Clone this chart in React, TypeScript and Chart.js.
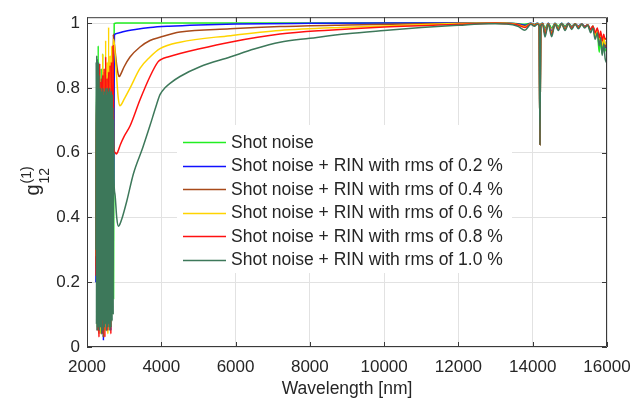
import { useEffect, useRef } from "react";
import { Chart, registerables } from "chart.js";
Chart.register(...registerables);

const xTicks = [2000, 4000, 6000, 8000, 10000, 12000, 14000, 16000];
const yTicks = [0, 0.2, 0.4, 0.6, 0.8, 1];

const seriesLabels = [
  "Shot noise",
  "Shot noise + RIN with rms of 0.2 %",
  "Shot noise + RIN with rms of 0.4 %",
  "Shot noise + RIN with rms of 0.6 %",
  "Shot noise + RIN with rms of 0.8 %",
  "Shot noise + RIN with rms of 1.0 %",
];
const seriesColors = ["#22ee22", "#1010ff", "#a84a1a", "#ffd400", "#ff1010", "#3d785a"];

// noisy start region (shared wavelengths for first five series)
const noiseX = [2240, 2262, 2282, 2302, 2322, 2342, 2362, 2382, 2402, 2422, 2442, 2462, 2482, 2502, 2522, 2542, 2562, 2582, 2602, 2622, 2642, 2662, 2682, 2702];
const greenNoise = [0.30, 0.88, 0.06, 0.93, 0.10, 0.80, 0.05, 0.86, 0.12, 0.905, 0.03, 0.84, 0.08, 0.78, 0.05, 0.82, 0.10, 0.86, 0.06, 0.80, 0.09, 0.84, 0.12, 0.90];
const blueNoise = [0.20, 0.84, 0.08, 0.86, 0.05, 0.82, 0.10, 0.80, 0.04, 0.85, 0.02, 0.83, 0.07, 0.81, 0.10, 0.84, 0.06, 0.82, 0.09, 0.85, 0.05, 0.87, 0.15, 0.93];
const brownNoise = [0.25, 0.82, 0.07, 0.85, 0.04, 0.80, 0.09, 0.83, 0.06, 0.81, 0.03, 0.84, 0.08, 0.86, 0.05, 0.82, 0.11, 0.85, 0.07, 0.88, 0.10, 0.90, 0.20, 0.965];
const yellowNoise = [0.28, 0.84, 0.06, 0.82, 0.09, 0.86, 0.04, 0.80, 0.07, 0.905, 0.10, 0.85, 0.05, 0.946, 0.08, 0.88, 0.04, 0.987, 0.12, 0.90, 0.06, 0.93, 0.10, 0.95];
const redNoise = [0.22, 0.80, 0.05, 0.85, 0.03, 0.875, 0.08, 0.82, 0.04, 0.84, 0.07, 0.86, 0.03, 0.896, 0.09, 0.83, 0.05, 0.85, 0.10, 0.87, 0.04, 0.88, 0.12, 0.93];

const dgNoiseX = [2240, 2248, 2255, 2263, 2270, 2278, 2285, 2293, 2300, 2308, 2315, 2323, 2330, 2338, 2345, 2353, 2360, 2368, 2375, 2383, 2390, 2398, 2405, 2413, 2420, 2428, 2435, 2443, 2450, 2458, 2465, 2473, 2480, 2488, 2495, 2503, 2510, 2518, 2525, 2533, 2540, 2548, 2555, 2563, 2570, 2578, 2585, 2593, 2600, 2608, 2615, 2623, 2630, 2638, 2645, 2653, 2660, 2668, 2675, 2683, 2690, 2698, 2705, 2713];
const dgNoise = [0.30, 0.88, 0.07, 0.90, 0.05, 0.89, 0.08, 0.86, 0.06, 0.88, 0.10, 0.84, 0.05, 0.80, 0.09, 0.78, 0.06, 0.80, 0.11, 0.76, 0.04, 0.79, 0.08, 0.77, 0.10, 0.80, 0.05, 0.78, 0.09, 0.75, 0.06, 0.79, 0.10, 0.77, 0.07, 0.80, 0.11, 0.76, 0.05, 0.78, 0.09, 0.80, 0.06, 0.77, 0.10, 0.79, 0.07, 0.76, 0.11, 0.80, 0.05, 0.78, 0.09, 0.77, 0.06, 0.79, 0.10, 0.76, 0.08, 0.78, 0.12, 0.74, 0.10, 0.70];

// smooth middle region
const greenMidX = [2716, 2732, 2800, 4000, 8000, 12000];
const greenMid = [0.15, 0.998, 1.0, 1.0, 1.0, 1.0];
const blueMidX = [2718, 2738, 2800, 3000, 3300, 3700, 4200, 5000, 6000, 8000, 10000, 12000];
const blueMid = [0.5, 0.962, 0.968, 0.974, 0.98, 0.986, 0.99, 0.994, 0.997, 0.999, 1.0, 1.0];
const brownMidX = [2720, 2760, 2800, 2840, 2870, 2900, 3000, 3158, 3427, 3696, 3965, 4504, 5850, 7196, 9000, 11000, 12500];
const brownMid = [0.95, 0.91, 0.87, 0.842, 0.835, 0.84, 0.865, 0.895, 0.926, 0.946, 0.956, 0.972, 0.982, 0.989, 0.994, 0.998, 0.999];
const yellowMidX = [2730, 2760, 2800, 2840, 2880, 2920, 3000, 3158, 3427, 3696, 3965, 4504, 5850, 7196, 9000, 11000, 12500];
const yellowMid = [0.94, 0.90, 0.83, 0.77, 0.745, 0.748, 0.765, 0.799, 0.86, 0.895, 0.921, 0.941, 0.961, 0.977, 0.987, 0.995, 0.999];
const redMidX = [2718, 2760, 2790, 2820, 2900, 3000, 3158, 3427, 3696, 3911, 4000, 4200, 4504, 5000, 5850, 7196, 8500, 10000, 12000];
const redMid = [0.62, 0.60, 0.596, 0.60, 0.625, 0.65, 0.682, 0.763, 0.835, 0.88, 0.888, 0.896, 0.906, 0.92, 0.941, 0.966, 0.978, 0.988, 0.996];
const dgMidX = [2725, 2755, 2800, 2845, 2880, 2950, 3070, 3250, 3500, 3700, 3850, 3965, 4100, 4235, 4504, 5042, 5850, 6500, 7196, 8000, 9000, 10000, 11000, 12000, 12800];
const dgMid = [0.52, 0.47, 0.40, 0.373, 0.378, 0.40, 0.45, 0.535, 0.615, 0.685, 0.74, 0.779, 0.80, 0.814, 0.835, 0.865, 0.895, 0.92, 0.941, 0.953, 0.967, 0.977, 0.986, 0.993, 0.998];

// long-wavelength tail (shared wavelengths)
const tailX = [13000, 13300, 13600, 13790, 13950, 14050, 14120, 14175, 14195, 14215, 14270, 14330, 14420, 14510, 14600, 14690, 14780, 14870, 14960, 15050, 15140, 15230, 15320, 15400, 15480, 15560, 15620, 15680, 15740, 15790, 15830, 15870, 15910, 15950, 16000];
const greenTail = [1.0, 1.0, 0.998, 0.996, 0.999, 0.996, 0.999, 0.996, 0.625, 0.996, 0.999, 0.985, 0.999, 0.985, 0.999, 0.99, 0.999, 0.99, 0.999, 0.99, 0.998, 0.99, 0.997, 0.99, 0.995, 0.975, 0.99, 0.96, 0.975, 0.91, 0.95, 0.905, 0.94, 0.92, 0.91];
const blueTail = [1.0, 1.0, 0.997, 0.993, 0.999, 0.995, 0.999, 0.995, 0.625, 0.995, 0.999, 0.975, 0.999, 0.975, 0.999, 0.985, 0.999, 0.987, 0.999, 0.988, 0.998, 0.99, 0.997, 0.99, 0.995, 0.98, 0.99, 0.965, 0.98, 0.95, 0.965, 0.935, 0.955, 0.93, 0.92];
const brownTail = [1.0, 0.999, 0.996, 0.99, 0.998, 0.994, 0.998, 0.994, 0.625, 0.994, 0.998, 0.97, 0.998, 0.97, 0.998, 0.983, 0.998, 0.984, 0.998, 0.986, 0.997, 0.988, 0.996, 0.988, 0.994, 0.978, 0.99, 0.965, 0.98, 0.95, 0.965, 0.935, 0.955, 0.93, 0.925];
const yellowTail = [0.999, 0.999, 0.995, 0.988, 0.998, 0.993, 0.998, 0.993, 0.625, 0.993, 0.998, 0.968, 0.998, 0.968, 0.998, 0.982, 0.998, 0.982, 0.997, 0.985, 0.997, 0.987, 0.996, 0.988, 0.994, 0.978, 0.99, 0.96, 0.978, 0.945, 0.965, 0.93, 0.955, 0.935, 0.94];
const redTail = [0.999, 0.998, 0.994, 0.986, 0.997, 0.992, 0.997, 0.992, 0.625, 0.992, 0.997, 0.965, 0.997, 0.965, 0.997, 0.98, 0.997, 0.98, 0.997, 0.984, 0.997, 0.986, 0.996, 0.988, 0.994, 0.98, 0.99, 0.97, 0.985, 0.955, 0.975, 0.945, 0.965, 0.95, 0.955];
const dgTail = [0.998, 0.997, 0.99, 0.978, 0.996, 0.99, 0.996, 0.99, 0.625, 0.99, 0.996, 0.957, 0.997, 0.958, 0.997, 0.977, 0.998, 0.977, 0.997, 0.98, 0.997, 0.982, 0.996, 0.985, 0.993, 0.97, 0.985, 0.95, 0.97, 0.93, 0.955, 0.90, 0.935, 0.89, 0.875];

const zip = (xs: number[], ys: number[]) => xs.map((x, i) => ({ x, y: ys[i] }));

const seriesPoints = [
  [...zip(noiseX, greenNoise), ...zip(greenMidX, greenMid), ...zip(tailX, greenTail)],
  [...zip(noiseX, blueNoise), ...zip(blueMidX, blueMid), ...zip(tailX, blueTail)],
  [...zip(noiseX, brownNoise), ...zip(brownMidX, brownMid), ...zip(tailX, brownTail)],
  [...zip(noiseX, yellowNoise), ...zip(yellowMidX, yellowMid), ...zip(tailX, yellowTail)],
  [...zip(noiseX, redNoise), ...zip(redMidX, redMid), ...zip(tailX, redTail)],
  [...zip(dgNoiseX, dgNoise), ...zip(dgMidX, dgMid), ...zip(tailX, dgTail)],
];

const FONT = "'Liberation Sans', Arial, Helvetica, sans-serif";
const TEXT = "#262626";

const decorPlugin = {
  id: "decor",
  afterDatasetsDraw(chart: any) {
    const ctx = chart.ctx;
    const { left, right, top, bottom } = chart.chartArea;
    const xs = chart.scales.x;
    const ys = chart.scales.y;
    ctx.save();
    // frame
    ctx.strokeStyle = "#3a3a3a";
    ctx.lineWidth = 1;
    ctx.beginPath();
    ctx.rect(left + 0.5, top + 0.5, right - left - 1, bottom - top - 1);
    ctx.stroke();
    // inward ticks
    ctx.beginPath();
    xTicks.forEach((v) => {
      const px = Math.round(xs.getPixelForValue(v)) + 0.5;
      ctx.moveTo(px, bottom);
      ctx.lineTo(px, bottom - 5);
      ctx.moveTo(px, top);
      ctx.lineTo(px, top + 5);
    });
    yTicks.forEach((v) => {
      const py = Math.round(ys.getPixelForValue(v)) + 0.5;
      ctx.moveTo(left, py);
      ctx.lineTo(left + 5, py);
      ctx.moveTo(right, py);
      ctx.lineTo(right - 5, py);
    });
    ctx.stroke();

    // legend
    ctx.fillStyle = "#ffffff";
    ctx.fillRect(177, 125, 335, 148);
    ctx.font = `17.5px ${FONT}`;
    ctx.textBaseline = "middle";
    ctx.textAlign = "left";
    seriesLabels.forEach((label, i) => {
      const y = 142 + i * 23.5;
      ctx.strokeStyle = seriesColors[i];
      ctx.lineWidth = 1.5;
      ctx.beginPath();
      ctx.moveTo(183, Math.round(y) + 0.5);
      ctx.lineTo(226, Math.round(y) + 0.5);
      ctx.stroke();
      ctx.fillStyle = TEXT;
      ctx.fillText(label, 231, y + 1);
    });

    // x title
    ctx.fillStyle = TEXT;
    ctx.font = `17.5px ${FONT}`;
    ctx.textAlign = "center";
    ctx.textBaseline = "middle";
    ctx.fillText("Wavelength [nm]", (left + right) / 2, 389);

    // y title g_12^(1)
    ctx.translate(39, 181);
    ctx.rotate(-Math.PI / 2);
    ctx.textAlign = "left";
    ctx.textBaseline = "alphabetic";
    ctx.font = `20px ${FONT}`;
    const gW = ctx.measureText("g").width;
    ctx.font = `14px ${FONT}`;
    const supW = ctx.measureText("(1)").width;
    const subW = ctx.measureText("12").width;
    const total = gW + 1 + Math.max(supW, subW);
    const sx = -total / 2;
    ctx.font = `20px ${FONT}`;
    ctx.fillText("g", sx, 0);
    ctx.font = `14px ${FONT}`;
    ctx.fillText("(1)", sx + gW + 1, -8);
    ctx.fillText("12", sx + gW + 1, 10);
    ctx.restore();
  },
};

export default function App() {
  const ref = useRef<HTMLCanvasElement | null>(null);
  useEffect(() => {
    document.body.style.margin = "0";
    const canvas = ref.current!;
    const order = [5, 4, 3, 2, 1, 0];
    const chart = new Chart(canvas, {
      type: "line",
      data: {
        datasets: seriesPoints.map((pts, i) => ({
          label: seriesLabels[i],
          data: pts,
          borderColor: seriesColors[i],
          backgroundColor: seriesColors[i],
          borderWidth: 1.5,
          pointRadius: 0,
          fill: false,
          cubicInterpolationMode: "monotone" as const,
          order: order[i],
        })),
      },
      options: {
        responsive: false,
        animation: false,
        devicePixelRatio: 1,
        layout: { padding: { left: 0, right: 37, top: 13, bottom: 0 } },
        plugins: { legend: { display: false }, tooltip: { enabled: false } },
        scales: {
          x: {
            type: "linear",
            min: 2000,
            max: 16000,
            afterBuildTicks: (s: any) => {
              s.ticks = xTicks.map((v) => ({ value: v }));
            },
            afterFit: (s: any) => {
              s.height = 58;
            },
            grid: { color: "#e2e2e2", drawTicks: false },
            border: { display: false },
            ticks: {
              padding: 10,
              color: TEXT,
              font: { family: FONT, size: 17 },
              maxRotation: 0,
              callback: (v: any) => String(v),
            },
          },
          y: {
            type: "linear",
            min: 0,
            max: 1.018,
            afterBuildTicks: (s: any) => {
              s.ticks = yTicks.map((v) => ({ value: v }));
            },
            afterFit: (s: any) => {
              s.width = 87;
            },
            grid: { color: "#e2e2e2", drawTicks: false },
            border: { display: false },
            ticks: {
              padding: 7,
              color: TEXT,
              font: { family: FONT, size: 17 },
              callback: (v: any) => String(v),
            },
          },
        },
      },
      plugins: [decorPlugin],
    });
    return () => chart.destroy();
  }, []);
  return (
    <div style={{ width: 644, height: 405 }}>
      <canvas ref={ref} width={644} height={405} style={{ display: "block" }} />
    </div>
  );
}
